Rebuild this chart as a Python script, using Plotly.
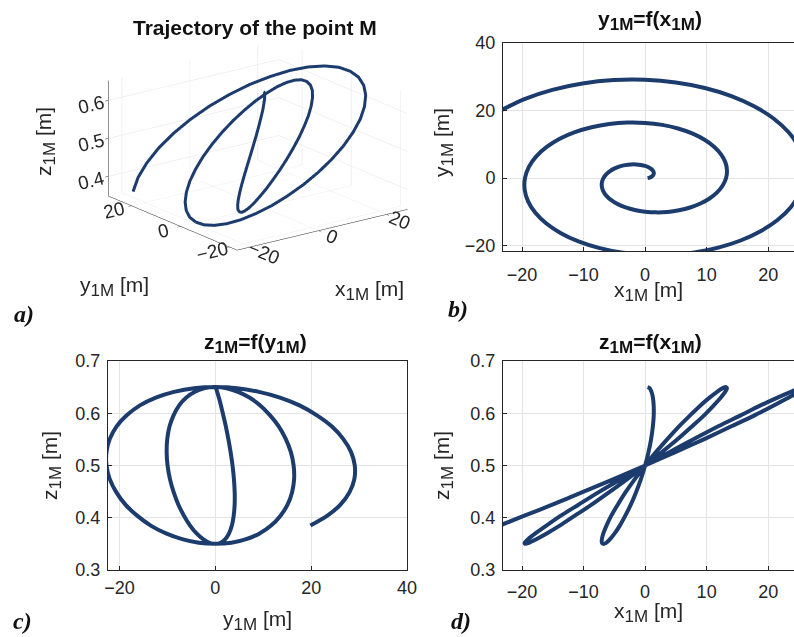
import plotly.graph_objects as go

# trajectory of point M (every ~10 deg of the spiral)
x1M = [0.40, 0.74, 1.04, 1.27, 1.39, 1.40, 1.26, 0.98, 0.56, 0.00,
       -0.68, -1.47, -2.33, -3.22, -4.11, -4.95, -5.70, -6.33, -6.78,
       -7.02, -7.03, -6.79, -6.28, -5.50, -4.45, -3.17, -1.67, 0.00,
       1.79, 3.65, 5.51, 7.32, 8.99, 10.47, 11.70, 12.61, 13.16,
       13.30, 13.03, 12.31, 11.16, 9.59, 7.64, 5.35, 2.78, 0.00,
       -2.90, -5.83, -8.70, -11.42, -13.88, -15.99, -17.69, -18.89, -19.53,
       -19.58, -19.02, -17.84, -16.05, -13.69, -10.83, -7.53, -3.88, 0.00,
       4.01, 8.01, 11.89, 15.52, 18.76, 21.52, 23.68, 25.17, 25.91,
       25.86, 25.01, 23.36, 20.93, 17.79, 14.02, 9.71, 4.99, 0.00,
       -5.11, -10.19, -15.08, -19.62, -23.65]
y1M = [0.00, 0.13, 0.38, 0.73, 1.17, 1.66, 2.19, 2.71, 3.18, 3.59,
       3.88, 4.04, 4.03, 3.83, 3.45, 2.86, 2.08, 1.12, 0.00,
       -1.24, -2.56, -3.92, -5.27, -6.55, -7.71, -8.70, -9.47, -9.97,
       -10.16, -10.03, -9.55, -8.72, -7.55, -6.05, -4.26, -2.22, 0.00,
       2.35, 4.74, 7.11, 9.37, 11.43, 13.23, 14.69, 15.75, 16.34,
       16.44, 16.02, 15.07, 13.60, 11.64, 9.23, 6.44, 3.33, 0.00,
       -3.45, -6.92, -10.30, -13.47, -16.32, -18.76, -20.68, -22.03, -22.72,
       -22.72, -22.02, -20.60, -18.49, -15.74, -12.42, -8.62, -4.44, 0.00,
       4.56, 9.10, 13.49, 17.57, 21.20, 24.28, 26.68, 28.31, 29.10,
       29.01, 28.01, 26.12, 23.38, 19.84]
z1M = [0.650, 0.648, 0.641, 0.630, 0.615, 0.596, 0.575, 0.551, 0.526, 0.500,
       0.474, 0.449, 0.425, 0.404, 0.385, 0.370, 0.359, 0.352, 0.350,
       0.352, 0.359, 0.370, 0.385, 0.404, 0.425, 0.449, 0.474, 0.500,
       0.526, 0.551, 0.575, 0.596, 0.615, 0.630, 0.641, 0.648, 0.650,
       0.648, 0.641, 0.630, 0.615, 0.596, 0.575, 0.551, 0.526, 0.500,
       0.474, 0.449, 0.425, 0.404, 0.385, 0.370, 0.359, 0.352, 0.350,
       0.352, 0.359, 0.370, 0.385, 0.404, 0.425, 0.449, 0.474, 0.500,
       0.526, 0.551, 0.575, 0.596, 0.615, 0.630, 0.641, 0.648, 0.650,
       0.648, 0.641, 0.630, 0.615, 0.596, 0.575, 0.551, 0.526, 0.500,
       0.474, 0.449, 0.425, 0.404, 0.385]

ticks_pos = [-20, -10, 0, 10, 20]
ticks_y40 = [-20, 0, 20, 40]
ticks_z = [0.3, 0.4, 0.5, 0.6, 0.7]

W, H = 794, 637
LINE = "#1d3c6e"
AX = "#262626"
GRID = "#e4e4e4"
FONT = "Liberation Sans"


def px(x):
    return x / W


def py(y):
    return 1 - y / H


def style_axis(ax, tickvals, rng, standoff):
    ax.update(
        range=rng, tickvals=tickvals, showline=True, mirror=True,
        linecolor=AX, linewidth=1, showgrid=True, gridcolor=GRID,
        zeroline=False, ticks="inside", ticklen=4, tickcolor=AX,
        tickfont=dict(size=18, color=AX, family=FONT), automargin=False,
        ticklabelstandoff=standoff,
    )


fig = go.Figure()

spline = dict(color=LINE, width=4, shape="spline", smoothing=0.8)

# a) 3D trajectory
fig.add_trace(go.Scatter3d(x=x1M, y=y1M, z=z1M, mode="lines",
                           line=dict(color=LINE, width=6),
                           scene="scene", hoverinfo="skip"))
# b) y = f(x)
fig.add_trace(go.Scatter(x=x1M, y=y1M, mode="lines", line=spline,
                         xaxis="x", yaxis="y"))
# c) z = f(y)
fig.add_trace(go.Scatter(x=y1M, y=z1M, mode="lines", line=spline,
                         xaxis="x2", yaxis="y2"))
# d) z = f(x)
fig.add_trace(go.Scatter(x=x1M, y=z1M, mode="lines", line=spline,
                         xaxis="x3", yaxis="y3"))

fig.update_layout(
    width=W, height=H, margin=dict(l=0, r=0, t=0, b=0),
    paper_bgcolor="white", plot_bgcolor="white", showlegend=False,
    font=dict(family=FONT, color=AX),
    xaxis=dict(domain=[px(503), 1.0], anchor="y"),
    yaxis=dict(domain=[py(251), py(43)], anchor="x"),
    xaxis2=dict(domain=[px(108), px(407)], anchor="y2"),
    yaxis2=dict(domain=[py(570), py(361)], anchor="x2"),
    xaxis3=dict(domain=[px(503), 1.0], anchor="y3"),
    yaxis3=dict(domain=[py(570), py(361)], anchor="x3"),
)
style_axis(fig.layout.xaxis, ticks_pos, [-23.1, 24.2], 7)
style_axis(fig.layout.yaxis, ticks_y40, [-21.6, 40], 3)
style_axis(fig.layout.xaxis2, ticks_y40, [-22.4, 40], 1)
style_axis(fig.layout.yaxis2, ticks_z, [0.3, 0.7], 3)
style_axis(fig.layout.xaxis3, ticks_pos, [-23.1, 24.2], 5)
style_axis(fig.layout.yaxis3, ticks_z, [0.3, 0.7], 3)

ax3d = dict(showbackground=False, gridcolor=GRID, gridwidth=1, showline=True,
            linecolor=AX, linewidth=1, zeroline=False, showspikes=False,
            ticks="outside", ticklen=4, tickcolor=AX,
            tickfont=dict(size=15, color=AX, family=FONT), title=dict(text=""))
k = 2.0
s = 1.78  # ortho zoom is driven by the aspect ratio
# 3D ranges must hold every point, scatter3d drops the ones outside
fig.update_layout(scene=dict(
    domain=dict(x=[px(58), px(458)], y=[py(265), py(25)]),
    xaxis=dict(ax3d, range=[-24, 26.2], tickvals=[-20, 0, 20]),
    yaxis=dict(ax3d, range=[-23, 29.4], tickvals=[-20, 0, 20]),
    zaxis=dict(ax3d, range=[0.348, 0.652], tickvals=[0.4, 0.5, 0.6]),
    aspectmode="manual", aspectratio=dict(x=1 * s, y=1 * s, z=0.57 * s),
    camera=dict(eye=dict(x=-0.571 * k, y=-0.757 * k, z=0.317 * k),
                projection=dict(type="orthographic")),
))


def sub(s, size):
    return f"<sub><span style='font-size:{size}px'>{s}</span></sub>"


def note(text, x, y, size=20, angle=0, font=FONT, color=AX):
    fig.add_annotation(text=text, x=px(x), y=py(y), xref="paper", yref="paper",
                       showarrow=False, textangle=angle, xanchor="center",
                       yanchor="middle", font=dict(size=size, color=color, family=font))


# titles
note("<b>Trajectory of the point M</b>", 255, 28, size=21, color="#111")
note(f"<b>y{sub('1M', 17)}=f(x{sub('1M', 17)})</b>", 650, 21, size=21, color="#111")
note(f"<b>z{sub('1M', 17)}=f(y{sub('1M', 17)})</b>", 255, 343, size=21, color="#111")
note(f"<b>z{sub('1M', 17)}=f(x{sub('1M', 17)})</b>", 650, 343, size=21, color="#111")

# axis titles
lab_x = f"x{sub('1M', 17)} [m]"
lab_y = f"y{sub('1M', 17)} [m]"
lab_z = f"z{sub('1M', 17)} [m]"
note(lab_x, 369, 290, size=21)
note(lab_y, 114, 287, size=21)
note(lab_z, 45, 142, size=21, angle=-90)
note(lab_x, 648, 291, size=21)
note(lab_y, 443, 143, size=21, angle=-90)
note(lab_y, 257, 620, size=21)
note(lab_z, 51, 466, size=21, angle=-90)
note(lab_x, 648, 612, size=21)
note(lab_z, 443, 466, size=21, angle=-90)

# panel letters
serif = "Liberation Serif"
for letter, lx, ly in [("a", 24, 314), ("b", 458, 309), ("c", 22, 621), ("d", 461, 621)]:
    note(f"<b><i>{letter})</i></b>", lx, ly, size=24, font=serif, color="#111")

fig.write_html("out.html", config={"displayModeBar": False},
               post_script="document.body.style.margin='0px';")
